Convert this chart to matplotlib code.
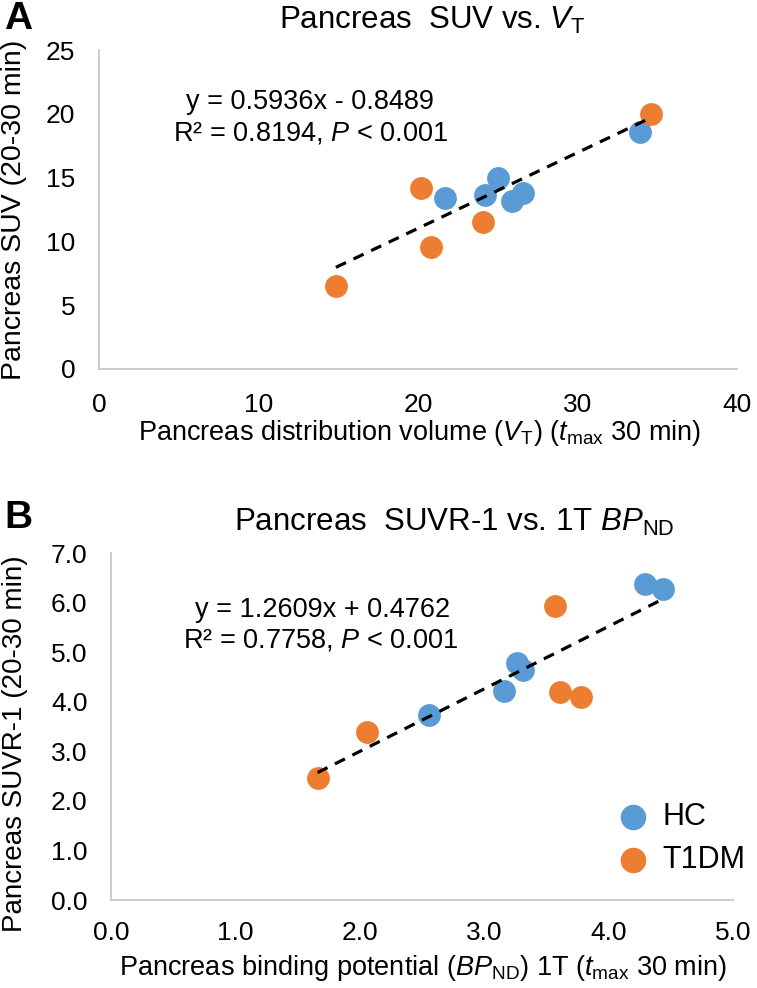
import numpy as np
import matplotlib.pyplot as plt

plt.rcParams['font.family'] = ['Liberation Sans', 'DejaVu Sans']
plt.rcParams['mathtext.fontset'] = 'custom'
plt.rcParams['mathtext.rm'] = 'Liberation Sans'
plt.rcParams['mathtext.it'] = 'Liberation Sans:italic'

blue = '#5B9BD5'
orange = '#ED7D31'
grey = '#C8C8C8'

# panel A: SUV vs VT
vt_hc = [33.9, 21.7, 24.2, 25.0, 25.9, 26.6]
suv_hc = [18.6, 13.4, 13.6, 15.0, 13.2, 13.8]
vt_t1 = [34.6, 20.2, 24.1, 20.8, 14.85]
suv_t1 = [20.0, 14.2, 11.5, 9.6, 6.5]
fit_a = (0.5936, -0.8489)

# panel B: SUVR-1 vs BPnd
bp_hc = [4.29, 4.44, 3.26, 3.31, 3.16, 2.56]
suvr_hc = [6.38, 6.28, 4.79, 4.64, 4.22, 3.73]
bp_t1 = [3.57, 3.61, 3.78, 2.06, 1.66]
suvr_t1 = [5.93, 4.19, 4.10, 3.39, 2.46]
fit_b = (1.2609, 0.4762)

W, H = 757, 988
fig = plt.figure(figsize=(W / 100, H / 100), dpi=100)
ax1 = fig.add_axes([99 / W, 1 - 369 / H, 638 / W, 319 / H])
ax2 = fig.add_axes([111 / W, 1 - 900 / H, 622 / W, 347 / H])


def px(x, y):
    # pixel position (from top-left) to figure fraction
    return x / W, 1 - y / H


def style_axes(ax, xpad, ypad):
    for s in ['top', 'right']:
        ax.spines[s].set_visible(False)
    for s in ['left', 'bottom']:
        ax.spines[s].set_color(grey)
        ax.spines[s].set_linewidth(1.3)
    ax.tick_params(length=0, labelsize=19)
    ax.tick_params(axis='y', pad=ypad)
    ax.tick_params(axis='x', pad=xpad)


ms = 270
dash = (0, (3.5, 2.6))

ax1.scatter(vt_hc, suv_hc, s=ms, color=blue, zorder=2, linewidths=0)
ax1.scatter(vt_t1, suv_t1, s=ms, color=orange, zorder=2, linewidths=0)
xs = np.array([min(vt_hc + vt_t1), max(vt_hc + vt_t1)])
ax1.plot(xs, fit_a[0] * xs + fit_a[1], color='black', ls=dash, lw=2.3, zorder=3)
ax1.set_xlim(0, 40)
ax1.set_ylim(0, 25)
ax1.set_xticks([0, 10, 20, 30, 40])
ax1.set_yticks([0, 5, 10, 15, 20, 25])
style_axes(ax1, 17, 17)

ax2.scatter(bp_hc, suvr_hc, s=ms, color=blue, zorder=2, linewidths=0, label='HC')
ax2.scatter(bp_t1, suvr_t1, s=ms, color=orange, zorder=2, linewidths=0, label='T1DM')
xs = np.array([min(bp_hc + bp_t1), max(bp_hc + bp_t1)])
ax2.plot(xs, fit_b[0] * xs + fit_b[1], color='black', ls=dash, lw=2.3, zorder=3)
ax2.set_xlim(0, 5)
ax2.set_ylim(0, 7)
xt = np.arange(0, 5.1, 1)
yt = np.arange(0, 7.1, 1)
ax2.set_xticks(xt)
ax2.set_yticks(yt)
ax2.set_xticklabels([f'{v:.1f}' for v in xt])
ax2.set_yticklabels([f'{v:.1f}' for v in yt])
style_axes(ax2, 15, 17)
ax2.legend(loc='center left', bbox_to_anchor=(0.815, 0.177), frameon=False, fontsize=22,
           handletextpad=0.45, labelspacing=0.42, borderpad=0, handlelength=1.0,
           markerscale=1.12, borderaxespad=0)

# axis labels
fig.text(*px(420, 433), r'Pancreas distribution volume ($V_\mathrm{T}$) ($t_\mathrm{max}$ 30 min)',
         fontsize=19.5, ha='center', va='center')
fig.text(*px(14, 210), 'Pancreas SUV (20-30 min)', fontsize=20.5, rotation=90,
         ha='center', va='center')
fig.text(*px(423, 968), r'Pancreas binding potential ($BP_\mathrm{ND}$) 1T ($t_\mathrm{max}$ 30 min)',
         fontsize=19.5, ha='center', va='center')
fig.text(*px(15, 744), 'Pancreas SUVR-1 (20-30 min)', fontsize=20, rotation=90,
         ha='center', va='center')

# titles and panel letters
fig.text(*px(432, 20), r'Pancreas  SUV vs. $V_\mathrm{T}$', fontsize=22.5, ha='center', va='center')
fig.text(*px(454, 522), r'Pancreas  SUVR-1 vs. 1T $BP_\mathrm{ND}$', fontsize=22.5,
         ha='center', va='center')
fig.text(*px(18, 19), 'A', fontsize=28, fontweight='bold', ha='center', va='center')
fig.text(*px(18, 518), 'B', fontsize=28, fontweight='bold', ha='center', va='center')

# regression equations
fig.text(*px(310, 102), 'y = 0.5936x - 0.8489', fontsize=19.5, ha='center', va='center')
fig.text(*px(311, 133), r'R² = 0.8194, $P$ < 0.001', fontsize=19.5, ha='center', va='center')
fig.text(*px(323, 610), 'y = 1.2609x + 0.4762', fontsize=19.5, ha='center', va='center')
fig.text(*px(321, 640), r'R² = 0.7758, $P$ < 0.001', fontsize=19.5, ha='center', va='center')

fig.savefig('out.png', dpi=100)
